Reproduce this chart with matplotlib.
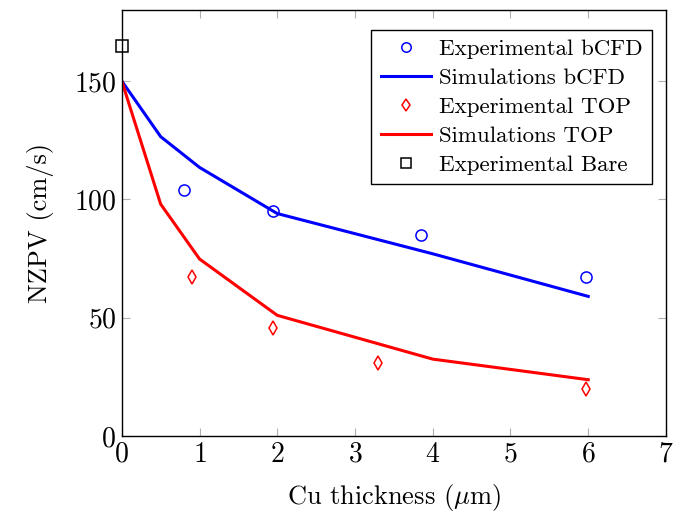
import matplotlib
matplotlib.use("Agg")
import matplotlib.pyplot as plt

plt.rcParams["font.family"] = "serif"
plt.rcParams["font.serif"] = ["cmr10"]
plt.rcParams["mathtext.fontset"] = "cm"
plt.rcParams["axes.formatter.use_mathtext"] = True

# data
exp_bcfd_x = [0.8, 1.95, 3.85, 5.97]
exp_bcfd_y = [104, 95, 85, 67]
sim_bcfd_x = [0, 0.5, 1, 2, 4, 6]
sim_bcfd_y = [150, 126.5, 113.5, 94, 77, 59]
exp_top_x = [0.9, 1.95, 3.3, 5.97]
exp_top_y = [67, 45.5, 31, 20]
sim_top_x = [0, 0.5, 1, 2, 4, 6]
sim_top_y = [150, 98, 74.8, 51, 32.5, 23.8]
exp_bare_x = [0]
exp_bare_y = [165]

fig = plt.figure(figsize=(6.88, 5.13), dpi=100)
ax = fig.add_axes([0.177, 0.150, 0.791, 0.8305])

ax.plot(exp_bcfd_x, exp_bcfd_y, "o", ms=8, mfc="none", mec="blue", mew=1.1,
        label="Experimental bCFD", clip_on=False)
ax.plot(sim_bcfd_x, sim_bcfd_y, "-", color="blue", lw=2.2, label="Simulations bCFD")
ax.plot(exp_top_x, exp_top_y, "d", ms=7, mfc="none", mec="red", mew=1.1,
        label="Experimental TOP", clip_on=False)
ax.plot(sim_top_x, sim_top_y, "-", color="red", lw=2.2, label="Simulations TOP")
ax.plot(exp_bare_x, exp_bare_y, "s", ms=8, mfc="none", mec="black", mew=1.1,
        label="Experimental Bare", clip_on=False)

ax.set_xlim(0, 7)
ax.set_ylim(0, 180)
ax.set_xticks(range(0, 8))
ax.set_yticks([0, 50, 100, 150])
ax.tick_params(direction="in", length=6, width=0.8, color="#b0b0b0",
               top=True, right=True, labelsize=20, pad=4)
for s in ax.spines.values():
    s.set_linewidth(1.0)

ax.set_xlabel(r"Cu thickness ($\mu$m)", fontsize=19, labelpad=10)
ax.set_ylabel("NZPV (cm/s)", fontsize=19, labelpad=14)

leg = ax.legend(loc="upper right", fontsize=16.5, fancybox=False, framealpha=1,
                edgecolor="black", handlelength=2.2, borderpad=0.4,
                labelspacing=0.39, handletextpad=0.35, borderaxespad=0,
                markerscale=0.85, bbox_to_anchor=(0.974, 0.953))
leg.get_frame().set_linewidth(1.0)

fig.savefig("out.png", dpi=100)
